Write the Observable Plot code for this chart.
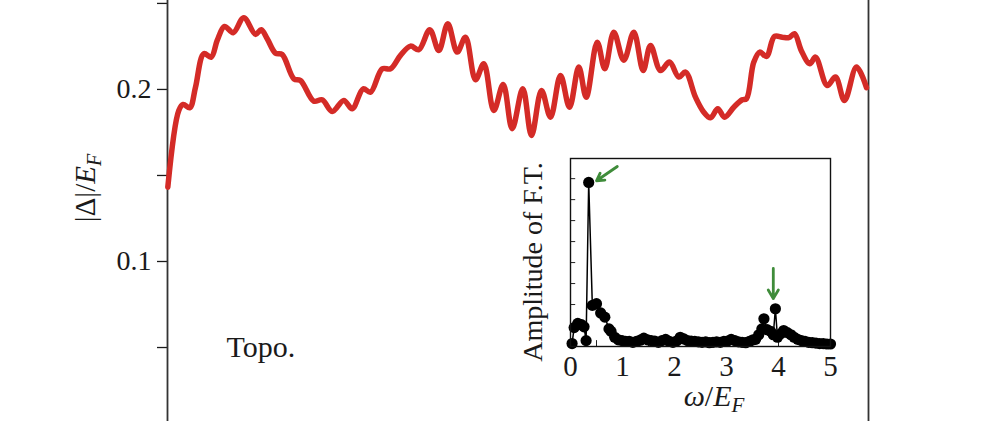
<!DOCTYPE html>
<html><head><meta charset="utf-8">
<script src="https://cdn.jsdelivr.net/npm/d3@7"></script>
<script src="https://cdn.jsdelivr.net/npm/@observablehq/plot@0.6"></script>
<style>
body{margin:0;background:#fff;}
#wrap{position:relative;width:989px;height:421px;overflow:hidden;background:#fff;}
#wrap svg{position:absolute;left:0;top:0;}
</style></head><body><div id="wrap"></div>
<script>
// Main curve: |Delta|/E_F versus time (arbitrary units)
const gapT = [0.03,1.13,1.57,2.23,2.8,3.63,4.37,4.97,5.7,6.57,7.63,8.8,9.37,9.97,10.8,11.47,12.63,13.3,14.63,15.47,16.47,17.63,18.47,19.57,20.3,21.47,22.3,23.3,24.3,25.13,26.23,27.13,28.03,28.97,29.8,30.8,31.63,32.63,33.57,34.47,35.53,36.4,37.4,38.3,39.3,40.2,41.13,41.87,42.97,43.73,44.63,45.63,46.63,47.57,48.3,49.3,50.2,51.13,51.8,52.8,53.63,54.3,55.03,55.7,56.63,57.47,57.9,58.63,59.23,59.9,60.7,61.47,62.13,62.7,63.37,64.23,64.8,65.97,66.8,67.7,68.9,69.9];
const gapV = [0.1432,0.1878,0.1913,0.1894,0.2013,0.2208,0.2188,0.2285,0.2366,0.2330,0.2417,0.2320,0.2347,0.2295,0.2211,0.2203,0.2062,0.2052,0.1932,0.1940,0.1872,0.1936,0.1888,0.2004,0.1984,0.2120,0.2120,0.2198,0.2252,0.2231,0.2347,0.2227,0.2382,0.2217,0.2304,0.2056,0.2149,0.1878,0.2029,0.1772,0.2004,0.1733,0.1994,0.1839,0.2081,0.1897,0.2130,0.1955,0.2275,0.2120,0.2333,0.2169,0.2333,0.2110,0.2256,0.2110,0.2159,0.2072,0.2101,0.1955,0.1868,0.1835,0.1888,0.1839,0.1897,0.1940,0.1946,0.2159,0.2217,0.2192,0.2308,0.2304,0.2301,0.2324,0.2227,0.2149,0.2188,0.2023,0.2072,0.1936,0.2130,0.2010];
const mainYTicks = [0.05, 0.1, 0.15, 0.2, 0.25];
const mainTimeRange = [0, 70.1];
const mainGapRange = [0.007, 0.2517];
const annotations = [{label: "Topo.", t: 5.9, v: 0.05}];

// Inset: Fourier transform amplitude
const ftOmega = [0.03,0.07,0.14,0.21,0.26,0.30,0.35,0.42,0.50,0.58,0.66,0.74,0.78,0.85,0.92,0.99,1.06,1.13,1.20,1.27,1.34,1.41,1.48,1.55,1.62,1.69,1.76,1.83,1.90,1.97,2.04,2.11,2.18,2.25,2.32,2.39,2.46,2.53,2.60,2.67,2.74,2.81,2.88,2.95,3.02,3.09,3.16,3.23,3.30,3.37,3.44,3.51,3.56,3.62,3.68,3.72,3.78,3.85,3.90,3.94,3.98,4.04,4.10,4.17,4.24,4.30,4.37,4.44,4.51,4.58,4.65,4.72,4.79,4.86,4.93,5.00];
const ftAmp = [0.07,0.45,0.55,0.52,0.47,0.14,3.91,0.98,1.02,0.80,0.70,0.42,0.36,0.22,0.16,0.14,0.12,0.12,0.10,0.12,0.15,0.20,0.16,0.14,0.13,0.10,0.14,0.17,0.12,0.10,0.13,0.22,0.18,0.14,0.13,0.12,0.11,0.10,0.11,0.09,0.10,0.11,0.10,0.12,0.13,0.17,0.14,0.11,0.10,0.09,0.12,0.16,0.17,0.28,0.42,0.66,0.40,0.36,0.28,0.90,0.22,0.30,0.38,0.33,0.28,0.22,0.17,0.14,0.12,0.10,0.09,0.08,0.07,0.07,0.06,0.06];
const insetXTicks = [0, 1, 2, 3, 4, 5];
const insetXMinor = [0.5, 1, 1.5, 2, 2.5, 3, 3.5, 4, 4.5];
const insetYMinor = [0.5, 1, 1.5, 2, 2.5, 3, 3.5, 4];
const insetXRange = [0, 5];
const insetYRange = [0, 4.48];
const arrowX1 = [0.9, 3.9], arrowY1 = [4.29, 1.86], arrowX2 = [0.5, 3.9], arrowY2 = [3.95, 1.14];

const serif = "'Liberation Serif', 'DejaVu Serif', serif";
const gap = gapT.map((t, i) => ({t, v: gapV[i]}));
const ft = ftOmega.map((w, i) => ({w, a: ftAmp[i]}));
const arrows = arrowX1.map((x, i) => ({x1: x, y1: arrowY1[i], x2: arrowX2[i], y2: arrowY2[i]}));

const main = Plot.plot({
  width: 989, height: 421,
  marginLeft: 167, marginRight: 121, marginTop: 0, marginBottom: 0,
  style: {background: "transparent", fontFamily: serif, fontSize: "28px", color: "#1a1a1a", overflow: "visible"},
  x: {domain: mainTimeRange, axis: null},
  y: {domain: mainGapRange},
  marks: [
    Plot.axisY({ticks: mainYTicks, tickSize: 10, tickPadding: 6, strokeWidth: 1.3, label: null,
      tickFormat: d => (Math.round(d * 100) % 10 === 0 ? d.toFixed(1) : "")}),
    Plot.ruleX(mainTimeRange, {stroke: "#333", strokeWidth: 1.8}),
    Plot.line(gap, {x: "t", y: "v", stroke: "#d42b27", strokeWidth: 5.5, curve: "catmull-rom", strokeLinejoin: "round"}),
    Plot.text(annotations, {x: "t", y: "v", text: "label", textAnchor: "start", fontSize: 30, fill: "#1a1a1a"})
  ]
});

const inset = Plot.plot({
  width: 989, height: 421,
  marginLeft: 570, marginRight: 159, marginTop: 158, marginBottom: 75,
  style: {background: "transparent", fontFamily: serif, fontSize: "29px", color: "#1a1a1a", overflow: "visible"},
  x: {domain: insetXRange},
  y: {domain: insetYRange, axis: null},
  marks: [
    Plot.frame({fill: "white", stroke: "none"}),
    Plot.axisX({ticks: insetXTicks, tickSize: 0, tickPadding: 9, label: null, tickFormat: d3.format("d")}),
    Plot.ruleX(insetXMinor, {y1: 0, y2: 0.14, stroke: "#222", strokeWidth: 1}),
    Plot.ruleY(insetYMinor, {x1: 0, x2: 0.1, stroke: "#222", strokeWidth: 1}),
    Plot.line(ft, {x: "w", y: "a", stroke: "black", strokeWidth: 1.5}),
    Plot.dot(ft, {x: "w", y: "a", r: 5.6, fill: "black"}),
    Plot.arrow(arrows, {x1: "x1", y1: "y1", x2: "x2", y2: "y2", stroke: "#3f8c3a", strokeWidth: 2.8, headLength: 10}),
    Plot.frame({stroke: "#111", strokeWidth: 1.4})
  ]
});

const wrap = document.getElementById("wrap");
wrap.appendChild(main);
wrap.appendChild(inset);

// Axis titles with italic/subscript parts
const ms = d3.select(main);
const yl = ms.append("text")
  .attr("transform", "translate(95,188) rotate(-90)")
  .attr("text-anchor", "middle").attr("font-family", serif).attr("font-size", 29).attr("fill", "#1a1a1a");
yl.append("tspan").text("|Δ|/");
yl.append("tspan").attr("font-style", "italic").text("E");
yl.append("tspan").attr("font-style", "italic").attr("font-size", 20).attr("dy", 6).text("F");

const is = d3.select(inset);
const xl = is.append("text")
  .attr("x", 714).attr("y", 406)
  .attr("text-anchor", "middle").attr("font-family", serif).attr("font-size", 30).attr("fill", "#1a1a1a");
xl.append("tspan").attr("font-style", "italic").text("ω");
xl.append("tspan").text("/");
xl.append("tspan").attr("font-style", "italic").text("E");
xl.append("tspan").attr("font-style", "italic").attr("font-size", 21).attr("dy", 6).text("F");

is.append("text")
  .attr("transform", "translate(542,262) rotate(-90)")
  .attr("text-anchor", "middle").attr("font-family", serif).attr("font-size", 28).attr("fill", "#1a1a1a")
  .text("Amplitude of F.T.");
</script></body></html>
